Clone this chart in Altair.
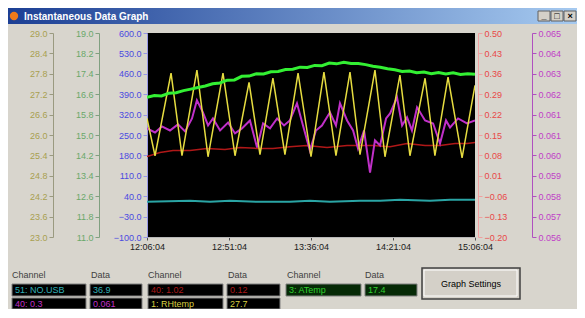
import json
import altair as alt
import pandas as pd

FONT = "Liberation Sans"

# ---------------- data ----------------
x_ticks = [0, 45, 90, 135, 180]  # minutes after 12:06:04
x_labels = ["12:06:04", "12:51:04", "13:36:04", "14:21:04", "15:06:04"]

olive_ticks = [29.0, 28.4, 27.8, 27.2, 26.6, 26.0, 25.4, 24.8, 24.2, 23.6, 23.0]
green_ticks = [19.0, 18.2, 17.4, 16.6, 15.8, 15.0, 14.2, 13.4, 12.6, 11.8, 11.0]
blue_ticks = [600.0, 530.0, 460.0, 390.0, 320.0, 250.0, 180.0, 110.0, 40.0, -30.0, -100.0]
red_ticks = [0.50, 0.43, 0.36, 0.29, 0.22, 0.15, 0.08, 0.01, -0.06, -0.13, -0.20]
mag_ticks = [0.065, 0.0641, 0.0632, 0.0623, 0.0614, 0.0605, 0.0596, 0.0587, 0.0578, 0.0569, 0.056]
mag_labels = ["0.065", "0.064", "0.063", "0.062", "0.061", "0.061", "0.060", "0.059", "0.058", "0.057", "0.056"]

# yellow (RHtemp) on olive axis
yellow_t = [0, 4.4, 13.2, 19.2, 27.4, 33.5, 41.7, 48.3, 56.0, 62.0, 69.1, 75.7, 82.9, 90.0,
            97.1, 103.7, 111.4, 116.9, 125.1, 130.6, 138.8, 144.3, 152.6, 158.0, 165.2, 172.9, 180]
yellow_v = [26.49, 25.39, 27.82, 25.39, 27.91, 25.36, 27.82, 25.39, 27.55, 25.42, 27.67, 25.42, 27.82, 25.36,
            27.85, 25.39, 27.85, 25.42, 27.91, 25.36, 27.76, 25.39, 27.67, 25.39, 27.70, 25.33, 27.46]

# green (ATemp) on green axis
green_t = list(range(0, 181, 4))
green_v = [16.48, 16.55, 16.53, 16.64, 16.66, 16.74, 16.80, 16.86, 16.92, 17.01, 17.04, 17.15,
           17.16, 17.30, 17.31, 17.40, 17.39, 17.48, 17.49, 17.57, 17.58, 17.66, 17.65, 17.73,
           17.72, 17.82, 17.79, 17.85, 17.80, 17.80, 17.76, 17.70, 17.66, 17.60, 17.56, 17.49,
           17.51, 17.44, 17.47, 17.40, 17.45, 17.39, 17.44, 17.37, 17.40, 17.38]

# cyan (NO.USB) on blue axis
cyan_t = [0, 23.6, 34.6, 45.5, 62.0, 78.4, 89.4, 100.4, 116.9, 127.9, 138.8, 155.3, 166.3, 180]
cyan_v = [20.7, 24.1, 20.7, 24.1, 20.7, 20.7, 24.1, 20.7, 24.1, 24.1, 27.6, 24.1, 27.6, 27.6]

# dark red on red axis
red_t = [0, 7.1, 14.3, 23.6, 32.9, 42.8, 51.0, 60.4, 69.1, 78.4, 87.8, 98.8, 109.8, 124.0,
         133.4, 142.7, 152.6, 160.8, 169.1, 175.6, 180]
red_v = [0.076, 0.090, 0.097, 0.097, 0.104, 0.100, 0.107, 0.104, 0.104, 0.110, 0.114, 0.107,
         0.114, 0.114, 0.110, 0.121, 0.114, 0.114, 0.121, 0.121, 0.124]

# magenta on magenta axis
mag_t = [0, 4.4, 8.2, 12.6, 17.0, 20.9, 24.7, 27.4, 30.7, 33.5, 36.2, 40.1, 44.5, 48.3, 52.1,
         56.5, 60.4, 63.7, 67.5, 71.4, 75.2, 78.4, 82.3, 85.6, 89.4, 92.7, 96.0, 100.4, 103.7,
         105.9, 109.8, 113.1, 115.8, 119.1, 122.4, 125.1, 127.9, 131.2, 133.4, 137.2, 140.0,
         142.7, 145.4, 148.2, 152.6, 157.0, 160.8, 164.1, 166.3, 170.7, 175.6, 180]
mag_v = [0.06079, 0.06061, 0.06088, 0.06070, 0.06097, 0.06066, 0.06123, 0.06203, 0.06150, 0.06092,
         0.06123, 0.06070, 0.06105, 0.06057, 0.06079, 0.06114, 0.05995, 0.06101, 0.06079, 0.06123,
         0.06092, 0.06114, 0.06190, 0.06092, 0.05981, 0.06070, 0.06092, 0.06150, 0.06092, 0.06190,
         0.06114, 0.06070, 0.05990, 0.06070, 0.05884, 0.06026, 0.06004, 0.06123, 0.06145, 0.06216,
         0.06092, 0.06128, 0.06070, 0.06172, 0.06114, 0.06101, 0.06012, 0.06114, 0.06083, 0.06123,
         0.06101, 0.06114]

# bottom panel texts
panel_headers = ["Channel", "Data", "Channel", "Data", "Channel", "Data"]
row1_texts = ["51: NO.USB", "36.9", "40: 1.02", "0.12", "3: ATemp", "17.4"]
row2_texts = ["40: 0.3", "0.061", "1: RHtemp", "27.7"]
title_text = "Instantaneous Data Graph"
button_text = "Graph Settings"

# ---------------- layout helpers ----------------
PX0, PY0 = 147, 33          # page position of plot origin
W, H = 328, 204
ONE = alt.Data(values=[{"a": 1}])


def px(v):
    return v - PX0


def py(v):
    return v - PY0


def box(x0, y0, x1, y1, fill, stroke=None, sw=1):
    kw = dict(fill=fill)
    if stroke is not None:
        kw.update(stroke=stroke, strokeWidth=sw)
    return alt.Chart(ONE).mark_rect(**kw).encode(
        x=alt.value(px(x0)), x2=alt.value(px(x1)), y=alt.value(py(y0)), y2=alt.value(py(y1)))


def label(text, x, y, color, size=9, weight="normal", align="left"):
    return alt.Chart(ONE).mark_text(text=text, color=color, fontSize=size, font=FONT,
                                    fontWeight=weight, align=align, baseline="middle").encode(
        x=alt.value(px(x)), y=alt.value(py(y)))


x_enc = alt.X("t:Q", scale=alt.Scale(domain=[0, 180], nice=False, zero=False),
              axis=alt.Axis(values=x_ticks, title=None, grid=False, labelFlush=False,
                            labelOverlap=False,
                            labelExpr=f"{json.dumps(x_labels)}[round(datum.value / 45)]",
                            labelColor="#202020", labelFont=FONT, labelFontSize=9,
                            tickColor="#505050", tickSize=3, labelPadding=2,
                            domainColor="#b8b8b8"))


def yaxis(orient, offset, ticks, label_color, line_color, fmt=None, expr=None):
    kw = dict(orient=orient, offset=offset, values=ticks, title=None, grid=False,
              labelColor=label_color, labelFont=FONT, labelFontSize=9, labelPadding=2,
              labelOverlap=False, tickColor=line_color, tickSize=4, domainColor=line_color)
    if fmt is not None:
        kw["format"] = fmt
    if expr is not None:
        kw["labelExpr"] = expr
    return alt.Axis(**kw)


def series(t, v, color, width, domain, axis):
    df = pd.DataFrame({"t": t, "v": v})
    return alt.Chart(df).mark_line(color=color, strokeWidth=width, clip=True).encode(
        x=x_enc,
        y=alt.Y("v:Q", scale=alt.Scale(domain=domain, nice=False, zero=False), axis=axis))


mag_step = round(mag_ticks[0] - mag_ticks[1], 6)
mag_expr = f"{json.dumps(mag_labels)}[round(({mag_ticks[0]} - datum.value) / {mag_step})]"

layers = []

# title bar
grad = {"gradient": "linear", "x1": 0, "x2": 1, "y1": 0, "y2": 0,
        "stops": [{"offset": 0, "color": "#1c3f94"}, {"offset": 1, "color": "#a6caf0"}]}
layers.append(box(8, 8, 577, 24, grad))
layers.append(alt.Chart(ONE).mark_point(shape="circle", filled=True, size=70, color="#f07a1a",
                                        opacity=1).encode(x=alt.value(px(14)), y=alt.value(py(16))))
layers.append(label(title_text, 24, 16.5, "white", size=10, weight="bold"))
for bx0, sym in [(538, "_"), (551, "□"), (564, "×")]:
    layers.append(box(bx0, 11, bx0 + 12, 21, "#d4d0c8", "#606060", 1))
    layers.append(label(sym, bx0 + 6, 15.5, "black", size=9, weight="bold", align="center"))

# bottom panel
hdr_x = [12, 91, 148, 228, 287, 365]
for h, hx in zip(panel_headers, hdr_x):
    layers.append(label(h, hx, 275, "#404040", size=9))
box_x = [(12, 86), (90, 142), (148, 223), (227, 280), (286, 361), (365, 417)]
row1_colors = ["#30b0b8", "#30b0b8", "#a81818", "#a81818", "#30d030", "#30d030"]
row1_fill = ["black", "black", "black", "black", "#062a06", "#062a06"]
for (x0, x1), t, c, f in zip(box_x, row1_texts, row1_colors, row1_fill):
    layers.append(box(x0, 284, x1, 296, f, "#808080", 1))
    layers.append(label(t, x0 + 3, 290, c, size=9))
row2_colors = ["#c030c8", "#c030c8", "#d8d040", "#d8d040"]
for (x0, x1), t, c in zip(box_x[:4], row2_texts, row2_colors):
    layers.append(box(x0, 298, x1, 309, "black", "#808080", 1))
    layers.append(label(t, x0 + 3, 303.5, c, size=9))
# button
layers.append(box(422, 268, 520, 299, "#d4d0c8", "#404040", 1.5))
layers.append(box(424, 270, 517, 296, "#d4d0c8", "#ffffff", 1))
layers.append(label(button_text, 471, 283.5, "black", size=9, align="center"))

# data series
layers.append(series(cyan_t, cyan_v, "#2aa5a5", 2, [-100, 600],
                     yaxis("left", 0, blue_ticks, "#4a4ae0", "#9898e8", fmt=".1f")))
layers.append(series(red_t, red_v, "#b01818", 1.5, [-0.2, 0.5],
                     yaxis("right", 3, red_ticks, "#e84848", "#f0a0a0", fmt=".2f")))
layers.append(series(mag_t, mag_v, "#c030c8", 2, [0.056, 0.065],
                     yaxis("right", 57, mag_ticks, "#c040c8", "#b050c0", expr=mag_expr)))
layers.append(series(yellow_t, yellow_v, "#e6dc40", 1.5, [23.0, 29.0],
                     yaxis("left", 94, olive_ticks, "#a8a050", "#9a9a80", fmt=".1f")))
layers.append(series(green_t, green_v, "#33f033", 3, [11.0, 19.0],
                     yaxis("left", 48, green_ticks, "#6aa86a", "#80a080", fmt=".1f")))

chart = alt.layer(*layers).resolve_scale(y="independent").properties(
    width=W, height=H,
    padding={"left": 139, "top": 25, "right": 102, "bottom": 72},
    autosize=alt.AutoSizeParams(type="none"),
).configure(background="#d8d5cd").configure_view(fill="black", strokeWidth=0)

chart.save("out.html", embed_options={"renderer": "svg", "actions": False})
